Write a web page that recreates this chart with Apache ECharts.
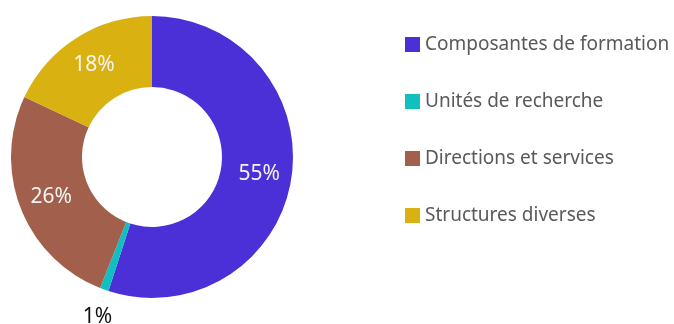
<!DOCTYPE html>
<html><head><meta charset="utf-8">
<script src="https://cdn.jsdelivr.net/npm/echarts@6/dist/echarts.min.js"></script>
<style>html,body{margin:0;padding:0;background:#fff}#c{width:674px;height:324px}</style>
</head><body><div id="c"></div>
<script>
const categories = ["Composantes de formation", "Unités de recherche", "Directions et services", "Structures diverses"];
const values = [55, 1, 26, 18];
const colors = ["#4a30d6", "#10c0c0", "#a2604c", "#d9b212"];
const outsideIdx = [1];

const chart = echarts.init(document.getElementById('c'), null, {renderer: 'canvas'});
chart.setOption({
  animation: false,
  color: colors,
  legend: {
    orient: 'vertical', left: 400, top: 30,
    icon: 'rect', itemWidth: 15, itemHeight: 15, itemGap: 38,
    textStyle: {fontFamily: 'Noto Sans', fontSize: 19, color: '#595959'},
    data: categories
  },
  series: [{
    type: 'pie',
    center: [152, 157], radius: [70, 141],
    startAngle: 90, clockwise: true,
    avoidLabelOverlap: false,
    label: {show: true, position: 'inside', formatter: '{c}%', color: '#f4f4f4',
            fontFamily: 'Noto Sans', fontSize: 21},
    labelLine: {show: false, length: 15, length2: 0},
    labelLayout: function (p) {
      if (outsideIdx.indexOf(p.dataIndex) >= 0) return {dx: 18, dy: 13};
      return {};
    },
    data: categories.map((n, i) => {
      const d = {name: n, value: values[i]};
      if (outsideIdx.indexOf(i) >= 0) d.label = {position: 'outside', color: '#111'};
      return d;
    })
  }]
});
</script></body></html>
